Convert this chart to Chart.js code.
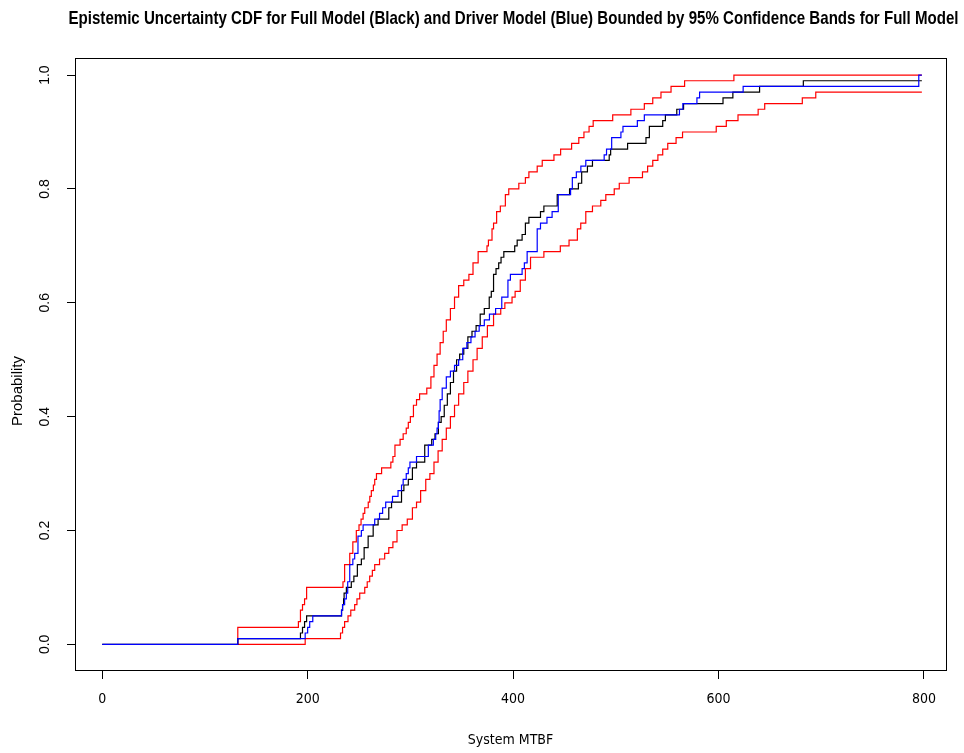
<!DOCTYPE html>
<html>
  <head>
    <script src="https://cdn.jsdelivr.net/npm/chart.js"></script>
    <style>
      body { margin: 0; background: #fff; }
      #wrap { width: 964px; height: 753px; }
    </style>
  </head>
  <body>
    <div id="wrap"><canvas id="cdfChart" width="964" height="753"></canvas></div>
    <script>
      var chartTitle = 'Epistemic Uncertainty CDF for Full Model (Black) and Driver Model (Blue) Bounded by 95% Confidence Bands for Full Model';
      var xTitle = 'System MTBF';
      var yTitle = 'Probability';
      var xTicks = [0, 200, 400, 600, 800];
      var yTicks = [0, 0.2, 0.4, 0.6, 0.8, 1.0];

      // full model (black)
      var fullX = [0, 132, 193, 195, 197, 199, 233, 234, 235, 235.5, 237.7, 242.5, 245, 248.4, 252.3, 255, 258.9, 263.8, 268.6, 279, 281.7, 291.4, 293.7, 298, 302, 306, 314, 320.8, 324, 327.3, 330, 333, 336, 339, 342, 345, 348, 352, 356, 360, 364, 368, 372, 376.8, 378.8, 381, 383.4, 386, 388.3, 391, 401.6, 404, 408.8, 412, 415.4, 426.7, 430, 443, 455, 463.6, 466.8, 472.4, 477.3, 493.6, 495, 511.5, 529.4, 532.7, 545.7, 548.3, 559.4, 566, 604.4, 614, 640, 682.6, 798];
      var fullP = [0, 0.01, 0.02, 0.03, 0.04, 0.05, 0.06, 0.07, 0.08, 0.09, 0.10, 0.11, 0.12, 0.14, 0.15, 0.17, 0.19, 0.21, 0.22, 0.24, 0.25, 0.27, 0.28, 0.29, 0.31, 0.32, 0.35, 0.36, 0.37, 0.39, 0.40, 0.42, 0.44, 0.46, 0.48, 0.50, 0.51, 0.52, 0.54, 0.55, 0.56, 0.58, 0.59, 0.61, 0.62, 0.65, 0.66, 0.67, 0.68, 0.69, 0.70, 0.71, 0.72, 0.74, 0.75, 0.76, 0.77, 0.79, 0.80, 0.81, 0.83, 0.84, 0.85, 0.86, 0.87, 0.88, 0.89, 0.91, 0.92, 0.93, 0.94, 0.95, 0.96, 0.97, 0.98, 0.99, 0.99];

      // driver model (blue)
      var driverX = [0, 132, 197.6, 200, 202, 205, 233, 234, 236, 237.7, 239, 241, 244, 245.8, 249, 252.3, 254, 265.3, 270, 273, 276, 282.6, 288, 291.4, 293, 296, 298, 299.6, 306, 317.5, 322.4, 324.7, 326, 327.3, 328, 329, 331, 335, 339, 343, 347, 351, 355, 359, 363, 367, 372, 377, 383, 389, 395, 397.4, 408.8, 411, 413.7, 423.5, 426.7, 433, 438, 444, 456, 457.7, 461.6, 466, 470.8, 488.7, 491, 496, 505, 507, 521, 527.8, 562, 565.3, 579, 581.6, 624, 795, 798];
      var driverP = [0, 0.01, 0.02, 0.03, 0.04, 0.05, 0.06, 0.07, 0.08, 0.09, 0.11, 0.14, 0.15, 0.16, 0.19, 0.20, 0.21, 0.22, 0.23, 0.24, 0.25, 0.26, 0.27, 0.28, 0.29, 0.30, 0.31, 0.32, 0.33, 0.35, 0.36, 0.37, 0.38, 0.39, 0.41, 0.43, 0.45, 0.47, 0.48, 0.49, 0.50, 0.52, 0.53, 0.54, 0.55, 0.56, 0.57, 0.58, 0.59, 0.61, 0.64, 0.65, 0.66, 0.67, 0.69, 0.73, 0.74, 0.75, 0.76, 0.79, 0.80, 0.82, 0.83, 0.84, 0.85, 0.86, 0.87, 0.89, 0.90, 0.91, 0.92, 0.93, 0.94, 0.95, 0.96, 0.97, 0.98, 1.00, 1.00];

      // upper 95% band (red)
      var upperX = [132, 132, 191, 193, 195, 197, 199, 234.4, 236, 241, 244, 247.4, 250, 252, 254, 255.6, 259, 260.5, 262, 264, 265.3, 267, 272, 281, 283, 285, 290, 293, 296, 298, 300, 303, 306, 309, 316, 320, 323, 326, 329, 332, 335, 339, 343, 347, 352, 357, 361, 366, 374.6, 376, 379.5, 381, 384, 387.6, 392.5, 395.8, 405.6, 412, 415.4, 423.5, 428.4, 439.8, 446.3, 457, 464, 469, 474, 478, 497, 514.7, 527.8, 536, 544, 553.8, 567, 615, 798];
      var upperP = [0, 0.03, 0.04, 0.06, 0.07, 0.08, 0.10, 0.11, 0.14, 0.16, 0.18, 0.20, 0.21, 0.22, 0.23, 0.24, 0.25, 0.26, 0.27, 0.28, 0.29, 0.30, 0.31, 0.32, 0.33, 0.35, 0.36, 0.37, 0.38, 0.39, 0.40, 0.42, 0.43, 0.44, 0.45, 0.47, 0.49, 0.51, 0.53, 0.55, 0.57, 0.59, 0.61, 0.63, 0.64, 0.65, 0.67, 0.69, 0.70, 0.71, 0.73, 0.74, 0.76, 0.77, 0.79, 0.80, 0.81, 0.82, 0.83, 0.84, 0.85, 0.86, 0.87, 0.88, 0.89, 0.90, 0.91, 0.92, 0.93, 0.94, 0.95, 0.96, 0.97, 0.98, 0.99, 1.00, 1.00];

      // lower 95% band (red)
      var lowerX = [132, 197.6, 232, 234, 236, 239.3, 242, 245.8, 248, 250.7, 255.6, 258, 260.4, 263, 265.3, 270, 275, 279, 283, 287, 292, 297, 302, 306, 310, 315, 319, 323, 327, 331, 335, 339, 343, 347, 352, 356, 361, 365, 370, 375, 381, 388, 392, 399, 402, 407, 412, 417, 430, 446, 454.5, 462.6, 465.9, 470.8, 477.3, 485.4, 490.3, 498.5, 503.4, 513, 526, 531, 536, 541, 545.7, 550.6, 558.7, 565, 597.8, 607.6, 619, 638.6, 645, 681.6, 694.7, 798];
      var lowerP = [0, 0.01, 0.02, 0.03, 0.04, 0.05, 0.06, 0.07, 0.08, 0.09, 0.10, 0.11, 0.12, 0.13, 0.14, 0.15, 0.16, 0.17, 0.18, 0.20, 0.21, 0.22, 0.24, 0.25, 0.27, 0.29, 0.30, 0.32, 0.34, 0.36, 0.38, 0.40, 0.42, 0.44, 0.46, 0.48, 0.50, 0.52, 0.54, 0.56, 0.58, 0.59, 0.60, 0.61, 0.62, 0.64, 0.66, 0.68, 0.69, 0.70, 0.71, 0.73, 0.74, 0.76, 0.77, 0.78, 0.79, 0.80, 0.81, 0.82, 0.83, 0.84, 0.85, 0.86, 0.87, 0.88, 0.89, 0.90, 0.91, 0.92, 0.93, 0.94, 0.95, 0.96, 0.97, 0.97];

      function toPoints(xs, ps) {
        return xs.map(function(x, i) { return { x: x, y: ps[i] }; });
      }

      function stepLine(label, xs, ps, color) {
        return {
          label: label,
          data: toPoints(xs, ps),
          borderColor: color,
          borderWidth: 1.2,
          pointRadius: 0,
          fill: false,
          stepped: 'before'
        };
      }

      // box round the plot, main title and y label (placed like the R plot)
      var framePlugin = {
        id: 'frame',
        afterDraw: function(chart) {
          var ctx = chart.ctx;
          var a = chart.chartArea;
          ctx.save();
          ctx.strokeStyle = '#000';
          ctx.lineWidth = 1;
          ctx.strokeRect(Math.round(a.left) + 0.5, Math.round(a.top) + 0.5,
                         Math.round(a.right - a.left), Math.round(a.bottom - a.top));

          ctx.fillStyle = '#000';
          ctx.textAlign = 'center';
          ctx.textBaseline = 'middle';
          ctx.font = 'bold 19px "Liberation Sans", Arial, sans-serif';
          ctx.fillText(chartTitle, (a.left + a.right) / 2 + 3, 19, 890);

          ctx.translate(18, 391);
          ctx.rotate(-Math.PI / 2);
          ctx.font = '15px "Liberation Sans", Arial, sans-serif';
          ctx.fillText(yTitle, 0, 0);
          ctx.restore();
        }
      };

      var narrow = '"Liberation Sans Narrow", "DejaVu Sans Condensed", sans-serif';

      new Chart(document.getElementById('cdfChart').getContext('2d'), {
        type: 'line',
        data: {
          datasets: [
            stepLine('Driver Model', driverX, driverP, '#0000ff'),
            stepLine('Full Model', fullX, fullP, '#000000'),
            stepLine('Upper band', upperX, upperP, '#ff0000'),
            stepLine('Lower band', lowerX, lowerP, '#ff0000')
          ]
        },
        options: {
          responsive: false,
          devicePixelRatio: 1,
          animation: false,
          layout: { padding: { top: 58, right: 18, left: 0, bottom: 0 } },
          plugins: {
            legend: { display: false },
            tooltip: { enabled: false }
          },
          scales: {
            x: {
              type: 'linear',
              min: -26.5,
              max: 821.5,
              afterBuildTicks: function(scale) {
                scale.ticks = xTicks.map(function(v) { return { value: v }; });
              },
              afterFit: function(scale) { scale.height = 83; },
              grid: { drawOnChartArea: false, drawTicks: true, tickLength: 9, color: '#000' },
              border: { display: false },
              ticks: {
                autoSkip: false,
                maxRotation: 0,
                padding: 12,
                color: '#000',
                font: { family: narrow, size: 14 },
                callback: function(v) { return String(v); }
              },
              title: {
                display: true,
                text: xTitle,
                color: '#000',
                font: { family: narrow, size: 14 },
                padding: { top: 0, bottom: 4 }
              }
            },
            y: {
              type: 'linear',
              min: -0.045,
              max: 1.03,
              afterBuildTicks: function(scale) {
                scale.ticks = yTicks.map(function(v) { return { value: v }; });
              },
              afterFit: function(scale) { scale.width = 75; },
              grid: { drawOnChartArea: false, drawTicks: true, tickLength: 8, color: '#000' },
              border: { display: false },
              ticks: {
                autoSkip: false,
                minRotation: 90,
                maxRotation: 90,
                crossAlign: 'center',
                padding: 12,
                color: '#000',
                font: { family: '"Liberation Sans", Arial, sans-serif', size: 14 },
                callback: function(v) { return v.toFixed(1); }
              }
            }
          }
        },
        plugins: [framePlugin]
      });
    </script>
  </body>
</html>
